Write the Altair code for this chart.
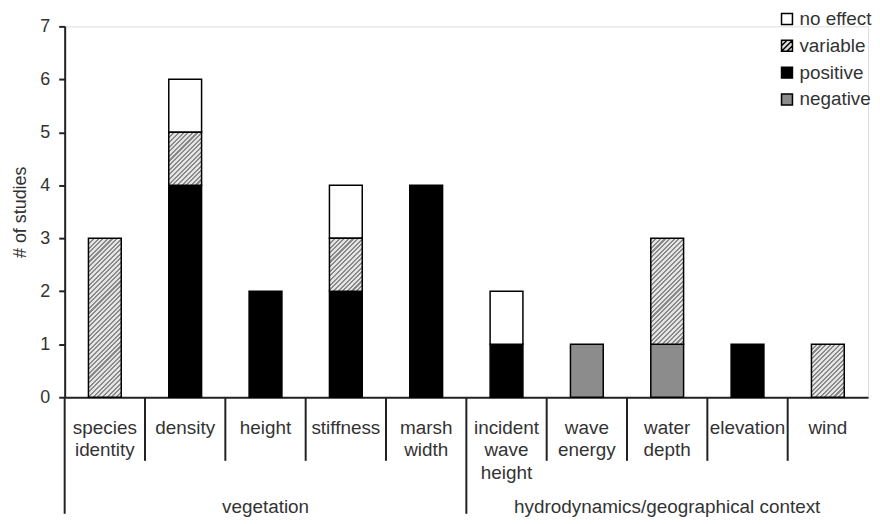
import math
import altair as alt
import pandas as pd

# ---------------- data ----------------
categories = ["species identity", "density", "height", "stiffness", "marsh width",
              "incident wave height", "wave energy", "water depth", "elevation", "wind"]
statuses = ["no effect", "variable", "positive", "negative"]
negative = [0, 0, 0, 0, 0, 0, 1, 1, 0, 0]
positive = [0, 4, 2, 2, 4, 1, 0, 0, 1, 0]
variable = [3, 1, 0, 1, 0, 0, 0, 2, 0, 1]
no_effect = [0, 1, 0, 1, 0, 1, 0, 0, 0, 0]
y_ticks = [0, 1, 2, 3, 4, 5, 6, 7]
groups = ["vegetation", "hydrodynamics/geographical context"]
group_start = ["species identity", "incident wave height"]
group_middle = ["height", "water depth"]

# ---------------- style ----------------
FONT = "Liberation Sans"
W, H = 808, 373
YMAX = 7
UNIT = H / YMAX
BAR_W = 33
INK = "#222222"
TXT = "#333333"
SHORT_DEPTH = -1.2
LONG_DEPTH = -2.2
GROUP_Y = -2.08

rows = []
for i, c in enumerate(categories):
    base = 0
    for s, vals in [("negative", negative), ("positive", positive),
                    ("variable", variable), ("no effect", no_effect)]:
        v = vals[i]
        if v:
            rows.append(dict(category=c, status=s, count=v, y0=base, y1=base + v))
            base += v
bars = pd.DataFrame(rows)

seps = pd.DataFrame(
    [dict(category=c, y1=0, y0=(LONG_DEPTH if c in group_start else SHORT_DEPTH))
     for c in categories]
)

grp = pd.DataFrame(dict(label=groups, category=group_middle, y1=[GROUP_Y] * len(groups)))

xscale = alt.Scale(domain=categories, paddingInner=0, paddingOuter=0)
yscale = alt.Scale(domain=[0, YMAX], nice=False, zero=False)

x_axis = alt.Axis(title=None, ticks=False, domain=True, domainWidth=2, domainColor=INK,
                  labelExpr="split(datum.label, ' ')", labelFontSize=19, labelLineHeight=23,
                  labelPadding=21, labelColor=TXT, labelAngle=0, labelFont=FONT, labelLimit=200,
                  labelBaseline="top", grid=False)
y_axis = alt.Axis(values=y_ticks, title="# of studies", grid=False, tickSize=6, tickWidth=2,
                  tickColor=INK, domainWidth=2, domainColor=INK, labelFontSize=18,
                  labelFont=FONT, labelColor=TXT, labelPadding=9, titleFontSize=18,
                  titleFont=FONT, titleFontWeight="normal", titleColor=TXT, titlePadding=10)


def X(band=0.5):
    return alt.X("category:N", sort=categories, scale=xscale, axis=x_axis, bandPosition=band)


def Y():
    return alt.Y("y1:Q", scale=yscale, axis=y_axis)


fill_scale = alt.Scale(domain=statuses, range=["#ffffff", "#dcdcdc", "#000000", "#8c8c8c"])
square = "M-1,-1H1V1H-1Z"
hatch_sq = "M-1,-1H1V1H-1Z M-1,0L0,-1 M-1,1L1,-1 M0,1L1,0"
shape_scale = alt.Scale(domain=statuses, range=[square, hatch_sq, square, square])
legend = alt.Legend(title=None, orient="none", legendX=717, legendY=-17,
                    symbolOpacity=1, symbolStrokeColor="black",
                    symbolStrokeWidth=1.5, symbolSize=121, labelFontSize=19,
                    labelFont=FONT, labelColor=TXT, labelOffset=3,
                    rowPadding=7, padding=0)

base = alt.Chart(bars)

solid = base.transform_filter("datum.status != 'variable'").mark_bar(
    width=BAR_W, stroke="black", strokeWidth=1.5
).encode(
    x=X(), y=Y(), y2="y0",
    fill=alt.Fill("status:N", scale=fill_scale, legend=legend),
)


def hatch_gradient(w, h, period=3.3, dark_frac=0.45, light="#e4e4e4", dark="#8a8a8a"):
    k = (w + h) / (w * w + h * h)
    length = (w + h) / math.sqrt(2)
    n = length / period
    stops = []
    i = 0
    while i / n < 1:
        a = i / n
        b = min((i + dark_frac) / n, 1)
        c = min((i + 1) / n, 1)
        stops += [alt.GradientStop(color=dark, offset=a), alt.GradientStop(color=dark, offset=b),
                  alt.GradientStop(color=light, offset=b), alt.GradientStop(color=light, offset=c)]
        i += 1
    return alt.Gradient(gradient="linear", stops=stops, x1=0, y1=0, x2=w * k, y2=h * k)


hatched_layers = []
for cnt in sorted(set(v for v in variable if v)):
    hatched_layers.append(
        base.transform_filter(f"datum.status == 'variable' && datum.count == {cnt}").mark_bar(
            width=BAR_W, stroke="black", strokeWidth=1.5,
            fill=hatch_gradient(BAR_W, cnt * UNIT),
        ).encode(x=X(), y=Y(), y2="y0")
    )

legend_layer = base.mark_point(filled=True, opacity=0).encode(
    x=X(), y=Y(),
    fill=alt.Fill("status:N", scale=fill_scale, legend=legend),
    shape=alt.Shape("status:N", scale=shape_scale, legend=legend),
)

rules = alt.Chart(seps).mark_rule(color=INK, strokeWidth=2).encode(
    x=X(0), y=Y(), y2="y0",
)

group_text = alt.Chart(grp).mark_text(
    fontSize=19, font=FONT, color=TXT, baseline="middle", align="center"
).encode(x=X(0.5), y=Y(), text="label:N")

chart = alt.layer(solid, *hatched_layers, legend_layer, rules, group_text).properties(
    width=W, height=H, padding={"left": 3, "top": 0, "right": 0, "bottom": 0}
).configure_view(stroke=None).configure(font=FONT).configure_point(
    stroke="black", strokeWidth=1.5
).configure_bar(stroke="black", strokeWidth=1.5)

chart.save("out.html", embed_options={"renderer": "svg", "actions": False})
